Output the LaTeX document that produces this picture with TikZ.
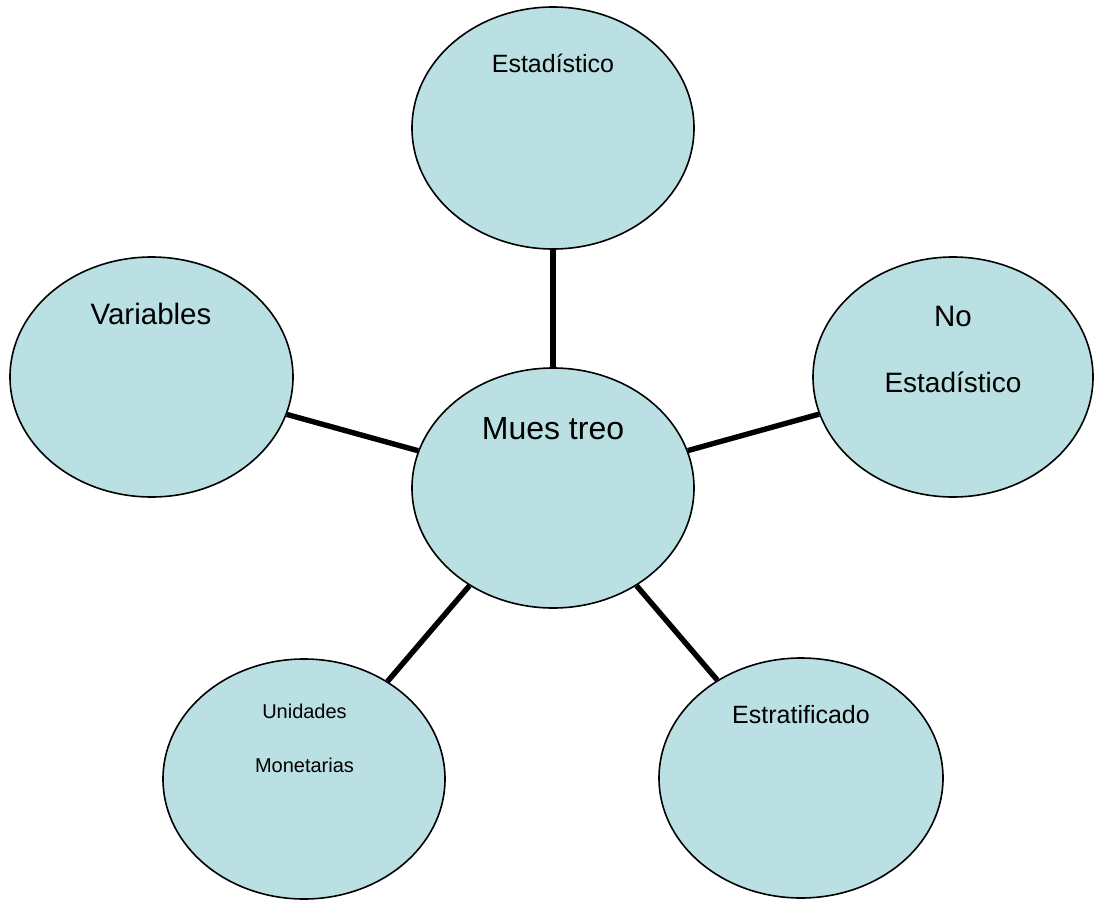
\documentclass[tikz,border=0pt]{standalone}
\usepackage{fontspec}
\setmainfont{Liberation Sans}
\usetikzlibrary{shapes.geometric}
\definecolor{bubblefill}{RGB}{186,224,227}
\tikzset{
  bubble/.style={ellipse, draw=black, line width=1.6pt, fill=bubblefill, inner sep=0pt, minimum width=282pt, minimum height=240pt},
  conn/.style={draw=black, line width=5.4pt},
  lbl/.style={anchor=base, inner sep=0pt, text=black}
}
\begin{document}
\begin{tikzpicture}[x=1pt, y=-1pt]
\useasboundingbox (0,0) rectangle (1094,899);
\node[bubble, minimum height=242pt] (est) at (553,128) {};
\node[bubble] (mues) at (553,488) {};
\node[bubble, minimum width=283pt] (var) at (151.5,377) {};
\node[bubble, minimum width=280pt] (noest) at (953,377) {};
\node[bubble] (unid) at (304,779) {};
\node[bubble, minimum width=284pt] (estr) at (801,778) {};
\draw[conn] (mues) -- (est);
\draw[conn] (mues) -- (var);
\draw[conn] (mues) -- (noest);
\draw[conn] (mues) -- (unid);
\draw[conn] (mues) -- (estr);
\node[lbl, font=\fontsize{25}{30}\selectfont] (t1) at (553,72) {Estadístico};
\node[lbl, font=\fontsize{32}{38}\selectfont] (t2) at (553,439) {Mues treo};
\node[lbl, font=\fontsize{29.5}{35}\selectfont] (t3) at (151,324) {Variables};
\node[lbl, font=\fontsize{29.5}{35}\selectfont] (t4) at (953,326) {No};
\node[lbl, font=\fontsize{28}{33}\selectfont] (t5) at (953,392.5) {Estadístico};
\node[lbl, font=\fontsize{20}{24}\selectfont] (t6) at (304.5,718) {Unidades};
\node[lbl, font=\fontsize{20}{24}\selectfont] (t7) at (304.5,772) {Monetarias};
\node[lbl, font=\fontsize{25}{30}\selectfont] (t8) at (801,723) {Estratificado};
\end{tikzpicture}
\end{document}
